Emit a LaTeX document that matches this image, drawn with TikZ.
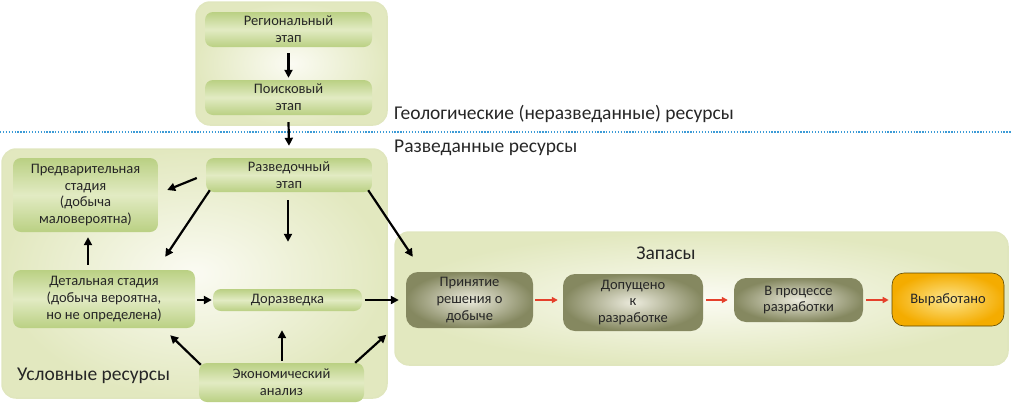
\documentclass[tikz,border=0pt]{standalone}
\usepackage{fontspec}
\setmainfont{Carlito}
\usetikzlibrary{arrows.meta}
\definecolor{contIn}{HTML}{FBFBF3}
\definecolor{contOut}{HTML}{E2E8BF}
\definecolor{contEdge}{HTML}{E0E6BE}
\definecolor{gEdge}{HTML}{BAD083}
\definecolor{gMid}{HTML}{E2EBC3}
\definecolor{oIn}{HTML}{ECEBDD}
\definecolor{oOut}{HTML}{858860}
\definecolor{yIn}{HTML}{FDE68E}
\definecolor{yOut}{HTML}{F4AC00}
\definecolor{yEdge}{HTML}{5E4800}
\definecolor{redArr}{HTML}{E5402B}
\definecolor{dotBlue}{HTML}{3C9BD6}
\newcommand{\boxfont}{\fontsize{14.5}{16.8}\selectfont}
\newcommand{\bigfont}{\fontsize{19.5}{23}\selectfont}
\tikzset{
  cont/.style={rounded corners=14pt, shading=radial, inner color=contIn, outer color=contOut, draw=contEdge, line width=1.5pt, inner sep=0pt},
  gbox/.style={rounded corners=8pt, top color=gEdge, bottom color=gEdge, middle color=gMid, align=center, font=\boxfont, text=black!85, inner sep=0pt},
  obox/.style={rounded corners=12pt, shading=radial, inner color=oIn, outer color=oOut, align=center, font=\boxfont, text=black!85, inner sep=0pt},
  ybox/.style={rounded corners=12pt, shading=radial, inner color=yIn, outer color=yOut, draw=yEdge, line width=0.6pt, align=center, font=\boxfont, text=black!85, inner sep=0pt},
  arr/.style={-{Triangle[length=8pt,width=8pt]}, line width=2.2pt, black},
  rarr/.style={-{Triangle[length=6pt,width=6pt]}, line width=2pt, redArr},
  biglabel/.style={font=\bigfont, text=black!85, inner sep=0pt},
  dotline/.style={dotBlue, line width=1.3pt, dash pattern=on 1.3pt off 1.6pt}
}
\begin{document}
\begin{tikzpicture}[x=1pt, y=-1pt]
\useasboundingbox (0,0) rectangle (1011,402);
% containers
\node[cont, minimum width=191pt, minimum height=123pt] (topc) at (291.5,63.5) {};
\node[cont, minimum width=385pt, minimum height=249pt] (leftc) at (194.5,273.5) {};
\node[cont, minimum width=613pt, minimum height=133pt] (zap) at (701.5,298.5) {};
% separator
\draw[dotline] (0,132) -- (1011,132);
% labels
\node[biglabel, anchor=west] (geo) at (394,114) {Геологические (неразведанные) ресурсы};
\node[biglabel, anchor=west] (razvres) at (394,148) {Разведанные ресурсы};
\node[biglabel, anchor=west] (uslov) at (17,376) {Условные ресурсы};
\node[biglabel] (zaplabel) at (666,253) {Запасы};
% green boxes
\node[gbox, minimum width=167pt, minimum height=35pt] (reg) at (288.5,29.5) {Региональный\\этап};
\node[gbox, minimum width=167pt, minimum height=35pt] (poisk) at (288.5,97.5) {Поисковый\\этап};
\node[gbox, minimum width=166pt, minimum height=34pt] (razv) at (289,175) {Разведочный\\этап};
\node[gbox, minimum width=145pt, minimum height=74pt] (pred) at (85.5,195) {Предварительная\\стадия\\(добыча\\маловероятна)};
\node[gbox, minimum width=182pt, minimum height=58pt] (detal) at (104,299) {Детальная стадия\\(добыча вероятна,\\но не определена)};
\node[gbox, minimum width=149pt, minimum height=22pt] (doraz) at (287.5,300) {Доразведка};
\node[gbox, minimum width=165pt, minimum height=39pt] (econ) at (281.5,382.5) {Экономический\\анализ};
% reserve boxes
\node[obox, minimum width=127pt, minimum height=56pt] (prin) at (469.5,300) {Принятие\\решения о\\добыче};
\node[obox, minimum width=140pt, minimum height=57pt] (dop) at (633,302.5) {Допущено\\к\\разработке};
\node[obox, minimum width=129pt, minimum height=44pt] (proc) at (798.5,300) {В процессе\\разработки};
\node[ybox, minimum width=112pt, minimum height=53pt] (vyr) at (948,299.5) {Выработано};
% black arrows
\draw[arr] ([shift={(0,6)}]reg.south) -- ([shift={(0,-2)}]poisk.north);
\draw[arr] ([shift={(0,7)}]poisk.south) -- ([shift={(0,-12)}]razv.north);
\draw[arr] ([shift={(-9,3)}]razv.west) -- ([shift={(9,-5)}]pred.east);
\draw[arr] ([shift={(4,-2)}]razv.south west) -- ([shift={(-30,-13)}]detal.north east);
\draw[arr] ([shift={(-1,8)}]razv.south) -- ([shift={(0.5,-47)}]doraz.north);
\draw[arr] ([shift={(-4,-2)}]razv.south east) -- ([shift={(7,-15)}]prin.north west);
\draw[arr] ([shift={(-16,-5)}]detal.north) -- ([shift={(2.5,5)}]pred.south);
\draw[arr] ([shift={(2,1)}]detal.east) -- ([shift={(-1,0)}]doraz.west);
\draw[arr] ([shift={(3,0)}]doraz.east) -- ([shift={(-7,0)}]prin.west);
\draw[arr] ([shift={(2,2)}]econ.north west) -- ([shift={(-25,7)}]detal.south east);
\draw[arr] ([shift={(0.5,-2)}]econ.north) -- ([shift={(-5.5,19)}]doraz.south);
\draw[arr] ([shift={(-9,0)}]econ.north east) -- ([shift={(-8,-31)}]zap.south west);
% red arrows
\draw[rarr] ([shift={(2,0)}]prin.east) -- ([shift={(-5,-2.5)}]dop.west);
\draw[rarr] ([shift={(3,-2.5)}]dop.east) -- ([shift={(-6,0)}]proc.west);
\draw[rarr] ([shift={(3,0)}]proc.east) -- ([shift={(-3,0.5)}]vyr.west);
\end{tikzpicture}
\end{document}
